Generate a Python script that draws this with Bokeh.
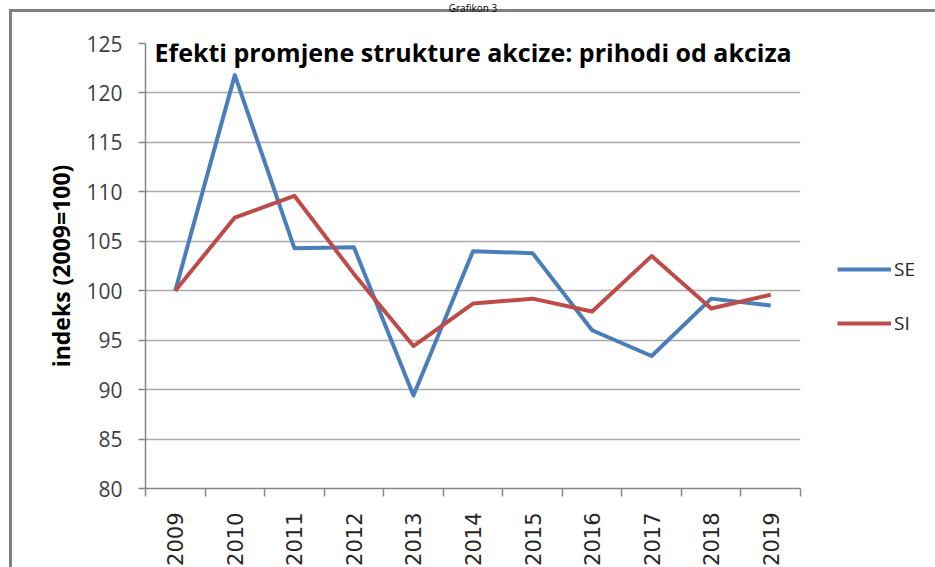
import math
from bokeh.plotting import figure
from bokeh.models import (Range1d, FixedTicker, Legend, LegendItem, Label,
                          ColumnDataSource, Title)
from bokeh.embed import file_html
from bokeh.resources import INLINE

# ---- data -------------------------------------------------------------
years = ["2009", "2010", "2011", "2012", "2013", "2014",
         "2015", "2016", "2017", "2018", "2019"]
se = [100.0, 121.8, 104.3, 104.4, 89.4, 104.0, 103.8, 96.0, 93.4, 99.2, 98.5]
si = [100.0, 107.4, 109.6, 101.7, 94.4, 98.7, 99.2, 97.9, 103.5, 98.2, 99.6]
series_names = ["SE", "SI"]
series_colors = ["#4a7ebb", "#be4b48"]
y_ticks = [80, 85, 90, 95, 100, 105, 110, 115, 120, 125]
caption = "Grafikon 3"
chart_title = "Efekti promjene strukture akcize: prihodi od akciza"
y_label = "indeks (2009=100)"

# ---- figure -----------------------------------------------------------
centers = [i + 0.5 for i in range(len(years))]
bounds = list(range(len(years) + 1))

p = figure(frame_width=655, frame_height=445,
           x_range=Range1d(0, len(years)),
           y_range=Range1d(y_ticks[0], y_ticks[-1]),
           output_backend="svg", toolbar_location=None,
           min_border_left=145, min_border_right=133,
           min_border_top=41, min_border_bottom=79)
p.outline_line_color = None
p.background_fill_color = "white"
p.border_fill_color = None
# frame lines of the embedded chart object (top and left edges)
p.styles = {
    "background-color": "white",
    "background-image": "linear-gradient(#808080, #808080), "
                        "linear-gradient(#808080, #808080)",
    "background-size": "100% 3px, 3px 100%",
    "background-position": "9px 9px, 9px 9px",
    "background-repeat": "no-repeat",
}

# caption on top of the canvas, spacer between it and the frame
p.title.text = caption
p.title.align = "center"
p.title.vertical_align = "top"
p.title.text_font = "Open Sans"
p.title.text_font_style = "normal"
p.title.text_font_size = "10px"
p.title.text_color = "#000000"
p.title.standoff = 0
p.add_layout(Title(text=" ", text_font_size="10px", standoff=14), "above")

src = ColumnDataSource(dict(x=centers, se=se, si=si))
r_se = p.line("x", "se", source=src, line_color=series_colors[0],
              line_width=4, line_join="round")
r_si = p.line("x", "si", source=src, line_color=series_colors[1],
              line_width=4, line_join="round")

# x axis
xa = p.xaxis[0]
xa.ticker = FixedTicker(ticks=centers, minor_ticks=bounds)
xa.major_label_overrides = {c: y for c, y in zip(centers, years)}
xa.major_tick_out = 0
xa.major_tick_in = 0
xa.minor_tick_out = 8
xa.minor_tick_in = 0
xa.minor_tick_line_color = "#868686"
xa.minor_tick_line_width = 1.5
xa.axis_line_color = "#868686"
xa.axis_line_width = 1.5
xa.major_label_orientation = math.pi / 2
xa.major_label_standoff = 16
xa.major_label_text_font = "DejaVu Sans"
xa.major_label_text_font_size = "21px"
xa.major_label_text_color = "#262626"

# y axis
ya = p.yaxis[0]
ya.ticker = FixedTicker(ticks=y_ticks)
ya.minor_tick_line_color = None
ya.major_tick_out = 7
ya.major_tick_in = 0
ya.major_tick_line_color = "#868686"
ya.major_tick_line_width = 1.5
ya.axis_line_color = "#868686"
ya.axis_line_width = 1.5
ya.major_label_standoff = 16
ya.major_label_text_font = "Open Sans"
ya.major_label_text_font_size = "21px"
ya.major_label_text_color = "#404040"
ya.axis_label = y_label
ya.axis_label_text_font = "Open Sans"
ya.axis_label_text_font_style = "bold"
ya.axis_label_text_font_size = "23px"
ya.axis_label_text_color = "#000000"
ya.axis_label_standoff = 6

p.xgrid.visible = False
p.ygrid.ticker = FixedTicker(ticks=y_ticks)
p.ygrid.grid_line_color = "#ababab"
p.ygrid.grid_line_width = 1.5

# chart title inside the plot area
p.add_layout(Label(x=0, y=y_ticks[-1], x_offset=9, y_offset=-8,
                   text=chart_title, text_font="Open Sans",
                   text_font_style="bold", text_font_size="25px",
                   text_color="#000000", text_baseline="alphabetic"))

legend = Legend(items=[LegendItem(label=series_names[0], renderers=[r_se]),
                       LegendItem(label=series_names[1], renderers=[r_si])],
                location=(37, 152), glyph_width=54, glyph_height=20,
                label_height=20, spacing=28, padding=0, margin=0,
                label_standoff=3, border_line_color=None,
                background_fill_alpha=0, label_text_font="Open Sans",
                label_text_font_size="19px", label_text_color="#262626")
p.add_layout(legend, "right")

open("out.html", "w").write(file_html(p, INLINE))
